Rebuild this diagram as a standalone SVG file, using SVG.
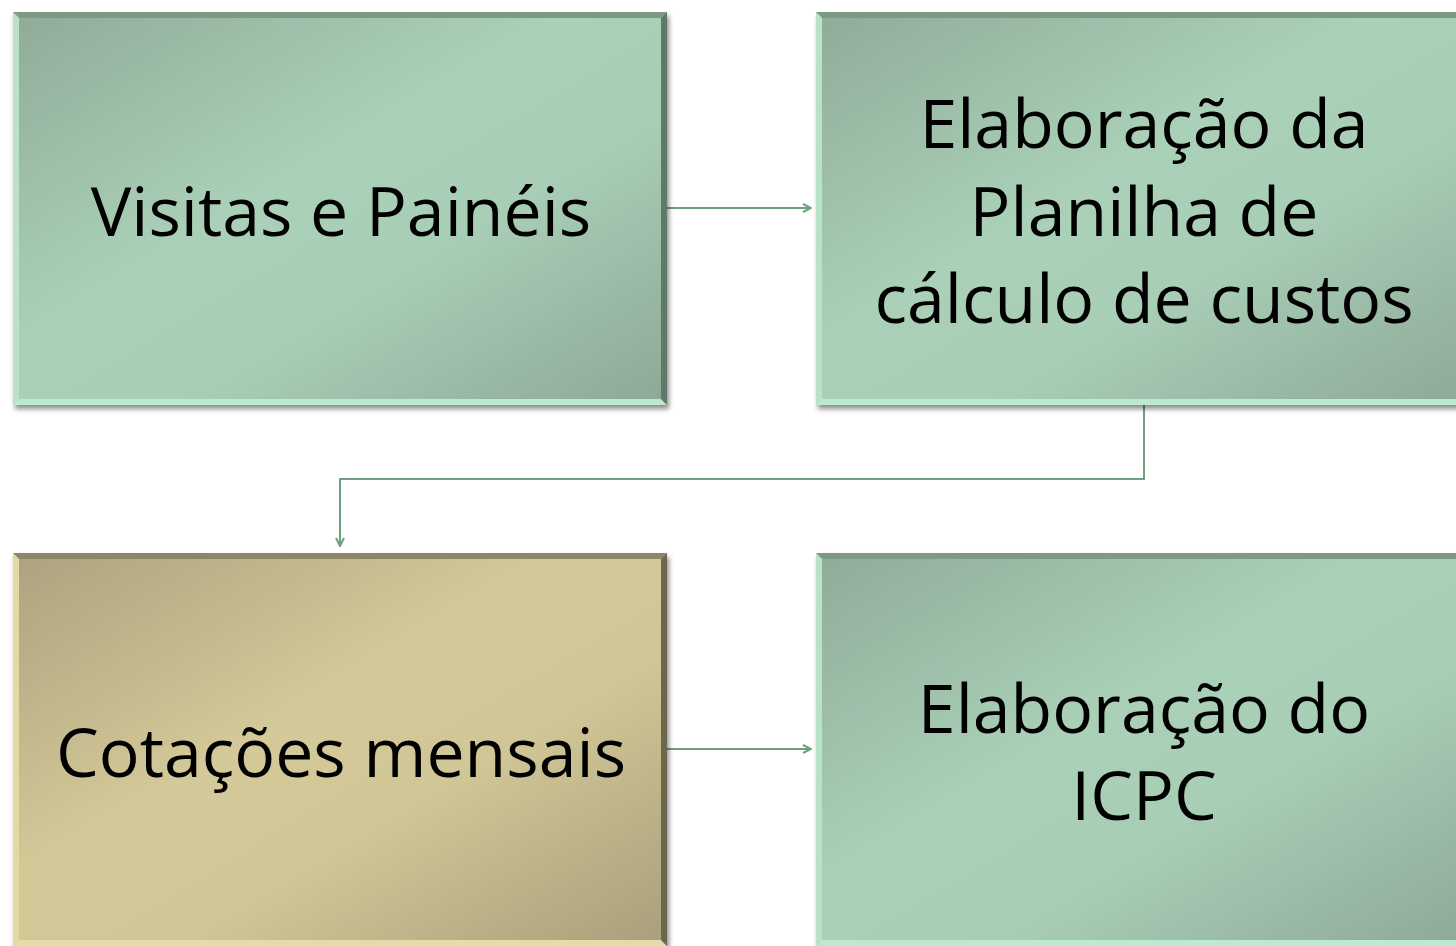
<svg xmlns="http://www.w3.org/2000/svg" width="1456" height="946" viewBox="0 0 1456 946">
<style>
.lbl{font-family:"Segoe UI","Open Sans","Noto Sans",sans-serif;font-size:68px;fill:#000;text-anchor:middle}
.conn{fill:none;stroke:#6E9F7F;stroke-width:2}
</style>
<defs>
<linearGradient id="gGreen" x1="0" y1="0" x2="1" y2="1">
<stop offset="0" stop-color="#90AB98"/>
<stop offset="0.42" stop-color="#AAD0B7"/>
<stop offset="0.62" stop-color="#A9CEB6"/>
<stop offset="1" stop-color="#8DA896"/>
</linearGradient>
<linearGradient id="gGold" x1="0" y1="0" x2="1" y2="1">
<stop offset="0" stop-color="#ACA27F"/>
<stop offset="0.42" stop-color="#D4C998"/>
<stop offset="0.62" stop-color="#D1C695"/>
<stop offset="1" stop-color="#A89F7C"/>
</linearGradient>
<filter id="sh" x="-5%" y="-5%" width="115%" height="115%">
<feDropShadow dx="2" dy="4" stdDeviation="2.5" flood-color="#000" flood-opacity="0.45"/>
</filter>
<marker id="ah" viewBox="0 0 10 10" refX="9" refY="5" markerWidth="10" markerHeight="10" markerUnits="userSpaceOnUse" orient="auto">
<path d="M1,1 L9,5 L1,9" fill="none" stroke="#6E9F7F" stroke-width="2"/>
</marker>
</defs>

<g id="connectors">
<path class="conn" d="M667,208 H811" marker-end="url(#ah)"/>
<path class="conn" d="M1144,405 V479 H340 V546" marker-end="url(#ah)"/>
<path class="conn" d="M667,749 H811" marker-end="url(#ah)"/>
</g>

<g id="node-visitas">
<rect x="13" y="12" width="654" height="393" fill="url(#gGreen)" filter="url(#sh)"/>
<polygon points="13,12 667,12 661,18 19,18" fill="#7E9A87"/>
<polygon points="13,12 19,18 19,399 13,405" fill="#B9E2C7"/>
<polygon points="13,405 19,399 661,399 667,405" fill="#BDE9CE"/>
<polygon points="667,12 667,405 661,399 661,18" fill="#5F7A69"/>
<text class="lbl" x="341" y="236">Visitas e Painéis</text>
</g>

<g id="node-planilha">
<rect x="816" y="12" width="660" height="393" fill="url(#gGreen)" filter="url(#sh)"/>
<polygon points="816,12 1476,12 1470,18 822,18" fill="#7E9A87"/>
<polygon points="816,12 822,18 822,399 816,405" fill="#B9E2C7"/>
<polygon points="816,405 822,399 1470,399 1476,405" fill="#BDE9CE"/>
<text class="lbl" x="1144" y="148">Elaboração da</text>
<text class="lbl" x="1144" y="236">Planilha de</text>
<text class="lbl" x="1144" y="323">cálculo de custos</text>
</g>

<g id="node-cotacoes">
<rect x="13" y="553" width="654" height="393" fill="url(#gGold)" filter="url(#sh)"/>
<polygon points="13,553 667,553 661,559 19,559" fill="#8E8668"/>
<polygon points="13,553 19,559 19,940 13,946" fill="#E2DAA2"/>
<polygon points="13,946 19,940 661,940 667,946" fill="#E3DBA8"/>
<polygon points="667,553 667,946 661,940 661,559" fill="#6D664D"/>
<text class="lbl" x="341" y="777">Cotações mensais</text>
</g>

<g id="node-icpc">
<rect x="816" y="553" width="660" height="393" fill="url(#gGreen)" filter="url(#sh)"/>
<polygon points="816,553 1476,553 1470,559 822,559" fill="#7E9A87"/>
<polygon points="816,553 822,559 822,940 816,946" fill="#B9E2C7"/>
<polygon points="816,946 822,940 1470,940 1476,946" fill="#BDE9CE"/>
<text class="lbl" x="1144" y="733">Elaboração do</text>
<text class="lbl" x="1144" y="820">ICPC</text>
</g>
</svg>
